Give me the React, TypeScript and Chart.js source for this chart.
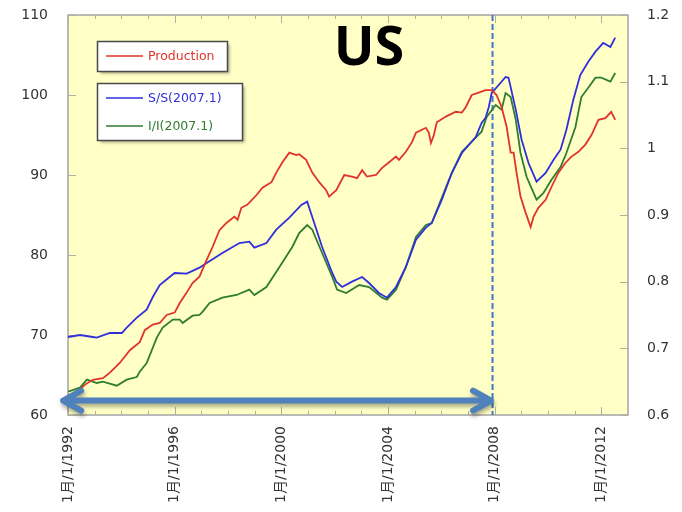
import React, { useEffect, useRef } from "react";
import { Chart, registerables } from "chart.js";

Chart.register(...registerables);

// ---- Data ----
const xTickYears = [1992, 1996, 2000, 2004, 2008, 2012];
const leftTicks = [60, 70, 80, 90, 100, 110];
const rightTicks = [0.6, 0.7, 0.8, 0.9, 1.0, 1.1, 1.2];

const prodYears = [1992.0, 1992.64, 1992.93, 1993.31, 1993.57, 1993.94, 1994.32, 1994.69, 1994.88, 1995.18, 1995.44, 1995.7, 1996.0, 1996.19, 1996.45, 1996.67, 1996.93, 1997.2, 1997.42, 1997.68, 1997.94, 1998.24, 1998.36, 1998.5, 1998.73, 1999.07, 1999.29, 1999.63, 1999.81, 2000.04, 2000.3, 2000.56, 2000.67, 2000.93, 2001.16, 2001.42, 2001.68, 2001.79, 2002.06, 2002.36, 2002.65, 2002.84, 2003.03, 2003.21, 2003.55, 2003.78, 2004.04, 2004.3, 2004.41, 2004.67, 2004.9, 2005.05, 2005.42, 2005.53, 2005.61, 2005.72, 2005.83, 2006.17, 2006.54, 2006.77, 2006.92, 2007.14, 2007.4, 2007.66, 2007.89, 2008.07, 2008.26, 2008.45, 2008.6, 2008.71, 2008.82, 2008.97, 2009.16, 2009.35, 2009.46, 2009.64, 2009.91, 2010.13, 2010.39, 2010.65, 2010.88, 2011.14, 2011.4, 2011.63, 2011.89, 2012.15, 2012.37, 2012.52];
const prodValues = [61.8, 63.8, 64.4, 64.6, 65.3, 66.5, 68.1, 69.1, 70.6, 71.3, 71.5, 72.5, 72.8, 74.0, 75.3, 76.5, 77.3, 79.4, 81.0, 83.1, 84.0, 84.8, 84.4, 85.9, 86.3, 87.5, 88.4, 89.1, 90.3, 91.6, 92.8, 92.5, 92.6, 91.9, 90.3, 89.1, 88.1, 87.3, 88.1, 90.0, 89.8, 89.6, 90.6, 89.8, 90.0, 90.9, 91.6, 92.3, 91.9, 92.9, 94.1, 95.3, 95.9, 95.3, 94.0, 95.0, 96.6, 97.3, 97.9, 97.8, 98.5, 100.0, 100.3, 100.6, 100.6, 100.0, 98.5, 96.0, 92.8, 92.8, 90.3, 87.3, 85.3, 83.5, 84.8, 85.9, 86.9, 88.5, 90.3, 91.5, 92.3, 92.9, 93.8, 95.0, 96.9, 97.1, 97.9, 96.9];

const ssYears = [1992.0, 1992.45, 1992.93, 1993.08, 1993.57, 1994.02, 1994.2, 1994.58, 1994.95, 1995.18, 1995.44, 1995.81, 1996.0, 1996.45, 1996.93, 1997.2, 1997.79, 1998.43, 1998.8, 1998.99, 1999.44, 1999.81, 2000.3, 2000.75, 2000.97, 2001.16, 2001.53, 2001.91, 2002.06, 2002.28, 2002.65, 2003.03, 2003.29, 2003.66, 2003.96, 2004.3, 2004.67, 2005.05, 2005.42, 2005.64, 2006.02, 2006.39, 2006.77, 2007.29, 2007.51, 2007.66, 2007.78, 2007.89, 2008.15, 2008.41, 2008.52, 2008.79, 2009.01, 2009.27, 2009.57, 2009.91, 2010.21, 2010.47, 2010.69, 2010.95, 2011.21, 2011.51, 2011.78, 2012.07, 2012.34, 2012.52];
const ssValues = [0.717, 0.72, 0.717, 0.716, 0.723, 0.723, 0.731, 0.746, 0.758, 0.777, 0.795, 0.807, 0.813, 0.812, 0.821, 0.828, 0.843, 0.858, 0.86, 0.851, 0.858, 0.878, 0.896, 0.915, 0.92, 0.897, 0.852, 0.813, 0.8, 0.792, 0.8, 0.807, 0.798, 0.783, 0.776, 0.792, 0.822, 0.863, 0.881, 0.888, 0.923, 0.963, 0.993, 1.017, 1.038, 1.046, 1.062, 1.083, 1.095, 1.107, 1.106, 1.058, 1.013, 0.978, 0.95, 0.963, 0.983, 0.998, 1.028, 1.073, 1.11, 1.13, 1.145, 1.158, 1.152, 1.166];

const iiYears = [1992.0, 1992.45, 1992.71, 1993.08, 1993.31, 1993.83, 1994.2, 1994.58, 1994.69, 1994.95, 1995.33, 1995.55, 1995.93, 1996.19, 1996.3, 1996.67, 1996.93, 1997.05, 1997.31, 1997.79, 1998.32, 1998.8, 1998.99, 1999.44, 1999.93, 2000.41, 2000.67, 2000.97, 2001.16, 2001.53, 2001.91, 2002.09, 2002.43, 2002.92, 2003.29, 2003.78, 2003.96, 2004.3, 2004.67, 2005.05, 2005.42, 2005.64, 2006.02, 2006.39, 2006.77, 2007.29, 2007.51, 2007.7, 2008.04, 2008.26, 2008.41, 2008.6, 2008.79, 2008.97, 2009.2, 2009.57, 2009.83, 2010.13, 2010.47, 2010.69, 2011.03, 2011.25, 2011.51, 2011.78, 2012.0, 2012.34, 2012.52];
const iiValues = [0.635, 0.641, 0.653, 0.648, 0.65, 0.644, 0.653, 0.657, 0.665, 0.678, 0.716, 0.731, 0.743, 0.743, 0.738, 0.749, 0.75, 0.755, 0.768, 0.776, 0.78, 0.788, 0.78, 0.792, 0.822, 0.852, 0.873, 0.885, 0.878, 0.843, 0.807, 0.788, 0.783, 0.795, 0.792, 0.776, 0.773, 0.788, 0.822, 0.867, 0.885, 0.888, 0.926, 0.963, 0.995, 1.016, 1.025, 1.047, 1.065, 1.058, 1.083, 1.077, 1.043, 0.993, 0.957, 0.923, 0.933, 0.953, 0.972, 0.993, 1.032, 1.077, 1.091, 1.106, 1.106, 1.1, 1.113];

const seriesLabels = ["Production", "S/S(2007.1)", "I/I(2007.1)"];
const titleText = "US";
const crisisYear = 2007.92;
const arrowFrom = 1991.78;
const arrowTo = 2007.9;
const arrowLevel = 61.8;

const RED = "#e2332b";
const BLUE = "#2f2fdc";
const GREEN = "#2f7d31";
const PLOT_BG = "#ffffc6";
const TEXT = "#333333";

const zip = (xs: number[], ys: number[]) => xs.map((x, i) => ({ x, y: ys[i] }));

const decorPlugin = {
  id: "decor",
  beforeDraw(chart: any) {
    const { ctx, chartArea: a } = chart;
    ctx.save();
    ctx.fillStyle = "#ffffff";
    ctx.fillRect(0, 0, chart.width, chart.height);
    ctx.fillStyle = PLOT_BG;
    ctx.fillRect(a.left, a.top, a.right - a.left, a.bottom - a.top);
    ctx.restore();
  },
  beforeDatasetsDraw(chart: any) {
    const { ctx, chartArea: a, scales } = chart;
    const x = scales.x, y = scales.y, y1 = scales.y1;
    ctx.save();
    // frame
    ctx.strokeStyle = "#a4a4a4";
    ctx.lineWidth = 1.5;
    ctx.strokeRect(a.left, a.top, a.right - a.left, a.bottom - a.top);
    // ticks
    ctx.strokeStyle = "#b0b0a0";
    ctx.lineWidth = 1;
    ctx.beginPath();
    for (let yr = 1992; yr <= 2012; yr++) {
      const px = Math.round(x.getPixelForValue(yr)) + 0.5;
      const len = (yr - 1992) % 4 === 0 ? 8 : 4;
      ctx.moveTo(px, a.bottom);
      ctx.lineTo(px, a.bottom - len);
      ctx.moveTo(px, a.top);
      ctx.lineTo(px, a.top + len);
    }
    leftTicks.forEach((v) => {
      const py = Math.round(y.getPixelForValue(v)) + 0.5;
      ctx.moveTo(a.left, py);
      ctx.lineTo(a.left + 8, py);
    });
    rightTicks.forEach((v) => {
      const py = Math.round(y1.getPixelForValue(v)) + 0.5;
      ctx.moveTo(a.right, py);
      ctx.lineTo(a.right - 8, py);
    });
    ctx.stroke();
    // dashed crisis line
    const cx = x.getPixelForValue(crisisYear);
    ctx.strokeStyle = "#3b7cc8";
    ctx.lineWidth = 2;
    ctx.setLineDash([6, 3]);
    ctx.beginPath();
    ctx.moveTo(cx, a.top);
    ctx.lineTo(cx, a.bottom);
    ctx.stroke();
    ctx.restore();
  },
  afterDraw(chart: any) {
    const { ctx, scales } = chart;
    const x = scales.x, y = scales.y;
    ctx.save();
    // double-headed arrow
    const x0 = x.getPixelForValue(arrowFrom);
    const x1 = x.getPixelForValue(arrowTo);
    const ay = y.getPixelForValue(arrowLevel);
    ctx.shadowColor = "rgba(0,0,0,0.35)";
    ctx.shadowBlur = 4;
    ctx.shadowOffsetX = 1;
    ctx.shadowOffsetY = 3;
    ctx.strokeStyle = "#4f81bd";
    ctx.lineWidth = 6;
    ctx.lineCap = "round";
    ctx.lineJoin = "round";
    ctx.beginPath();
    ctx.moveTo(x0 + 2, ay);
    ctx.lineTo(x1 - 2, ay);
    ctx.moveTo(x0 + 19, ay - 10);
    ctx.lineTo(x0 + 1, ay);
    ctx.lineTo(x0 + 19, ay + 10);
    ctx.moveTo(x1 - 19, ay - 10);
    ctx.lineTo(x1 - 1, ay);
    ctx.lineTo(x1 - 19, ay + 10);
    ctx.stroke();
    ctx.restore();

    // legend boxes
    ctx.save();
    const drawBox = (bx: number, by: number, bw: number, bh: number) => {
      ctx.save();
      ctx.shadowColor = "rgba(0,0,0,0.35)";
      ctx.shadowBlur = 3;
      ctx.shadowOffsetX = 2;
      ctx.shadowOffsetY = 2;
      ctx.fillStyle = "#ffffff";
      ctx.fillRect(bx, by, bw, bh);
      ctx.restore();
      ctx.strokeStyle = "#4a4a4a";
      ctx.lineWidth = 1.5;
      ctx.strokeRect(bx, by, bw, bh);
    };
    const drawEntry = (lx: number, ly: number, color: string, label: string) => {
      ctx.strokeStyle = color;
      ctx.lineWidth = 1.5;
      ctx.beginPath();
      ctx.moveTo(lx, ly);
      ctx.lineTo(lx + 37, ly);
      ctx.stroke();
      ctx.fillStyle = color;
      ctx.font = "12.5px 'DejaVu Sans', sans-serif";
      ctx.textAlign = "left";
      ctx.textBaseline = "middle";
      ctx.fillText(label, lx + 42, ly + 1);
    };
    drawBox(97.5, 41.5, 130, 30);
    drawEntry(106, 56, RED, seriesLabels[0]);
    drawBox(97.5, 83.5, 145, 57);
    drawEntry(106, 98, BLUE, seriesLabels[1]);
    drawEntry(106, 126, GREEN, seriesLabels[2]);

    // title
    ctx.fillStyle = "#000000";
    ctx.font = "bold 54px 'Open Sans', 'Liberation Sans', sans-serif";
    ctx.textAlign = "center";
    ctx.textBaseline = "alphabetic";
    ctx.fillText(titleText, 369, 65);
    ctx.restore();
  },
};

const zeroPad = (s: any) => {
  s.paddingTop = 0;
  s.paddingBottom = 0;
};

export default function App() {
  const ref = useRef<HTMLCanvasElement | null>(null);
  useEffect(() => {
    if (!ref.current) return;
    const tickFont = { family: "'DejaVu Sans', 'Noto Sans CJK JP', sans-serif", size: 14 };
    const chart = new Chart(ref.current, {
      type: "line",
      data: {
        datasets: [
          { label: seriesLabels[0], data: zip(prodYears, prodValues), borderColor: RED, yAxisID: "y", borderWidth: 1.8, pointRadius: 0, tension: 0 },
          { label: seriesLabels[1], data: zip(ssYears, ssValues), borderColor: BLUE, yAxisID: "y1", borderWidth: 1.8, pointRadius: 0, tension: 0 },
          { label: seriesLabels[2], data: zip(iiYears, iiValues), borderColor: GREEN, yAxisID: "y1", borderWidth: 1.8, pointRadius: 0, tension: 0 },
        ],
      },
      options: {
        responsive: false,
        animation: false,
        devicePixelRatio: 1,
        layout: { padding: { top: 15, left: 0, right: 0, bottom: 0 } },
        plugins: { legend: { display: false }, tooltip: { enabled: false }, title: { display: false } },
        scales: {
          x: {
            type: "linear",
            position: "bottom",
            min: 1992,
            max: 2013,
            grid: { display: false, drawTicks: false },
            border: { display: false },
            afterBuildTicks: (s: any) => { s.ticks = xTickYears.map((v) => ({ value: v })); },
            afterFit: (s: any) => { s.height = 97; s.paddingLeft = 0; s.paddingRight = 0; },
            ticks: {
              minRotation: 90,
              maxRotation: 90,
              autoSkip: false,
              padding: 11,
              color: TEXT,
              font: tickFont,
              callback: (v: any) => `1月/1/${v}`,
            },
          },
          y: {
            type: "linear",
            position: "left",
            min: 60,
            max: 110,
            grid: { display: false, drawTicks: false },
            border: { display: false },
            afterBuildTicks: (s: any) => { s.ticks = leftTicks.map((v) => ({ value: v })); },
            afterFit: (s: any) => { s.width = 68; zeroPad(s); },
            ticks: { padding: 20, color: TEXT, font: tickFont, callback: (v: any) => `${v}` },
          },
          y1: {
            type: "linear",
            position: "right",
            min: 0.6,
            max: 1.2,
            grid: { display: false, drawTicks: false },
            border: { display: false },
            afterBuildTicks: (s: any) => { s.ticks = rightTicks.map((v) => ({ value: v })); },
            afterFit: (s: any) => { s.width = 54; zeroPad(s); },
            ticks: { padding: 19, color: TEXT, font: tickFont, callback: (v: any) => `${Math.round(v * 10) / 10}` },
          },
        },
      },
      plugins: [decorPlugin],
    } as any);
    return () => chart.destroy();
  }, []);
  return (
    <div style={{ position: "absolute", left: 0, top: 0, width: 682, height: 512, background: "#fff" }}>
      <canvas ref={ref} width={682} height={512} style={{ display: "block" }} />
    </div>
  );
}
